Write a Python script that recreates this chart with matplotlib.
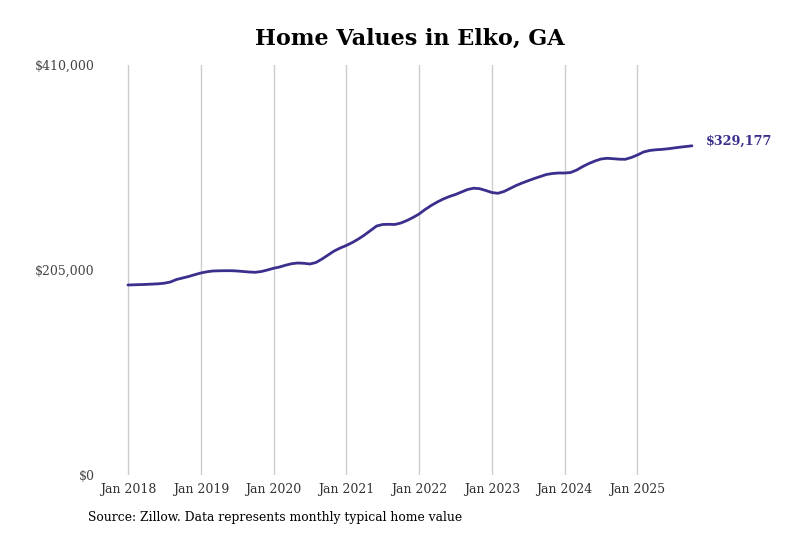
import numpy as np
import matplotlib
matplotlib.use("Agg")
import matplotlib.pyplot as plt

# monthly typical home value (thousands of $), Jan 2018 .. Oct 2025
values_k = [
    190.0, 190.2, 190.4, 190.6, 190.9, 191.2, 191.8, 193.0, 195.5, 197.0, 198.5, 200.3,
    202.0, 203.2, 204.0, 204.2, 204.3, 204.3, 204.0, 203.5, 203.0, 202.7, 203.5, 205.0,
    206.7, 208.0, 209.8, 211.3, 212.0, 211.7, 211.0, 212.5, 216.0, 220.0, 224.0, 227.0,
    229.5, 232.5, 236.0, 240.0, 244.5, 249.0, 250.5, 250.7, 250.5, 252.0, 254.5, 257.5,
    261.0, 265.5, 269.5, 273.0, 276.0, 278.5, 280.5, 283.0, 285.5, 286.8, 286.3, 284.5,
    282.5, 281.7, 283.5, 286.5, 289.5, 292.0, 294.3, 296.5, 298.5, 300.5, 301.5, 302.0,
    302.0, 302.5, 305.0, 308.5, 311.5, 314.0, 316.0, 316.7, 316.3, 315.8, 315.7, 317.5,
    320.0, 323.0, 324.5, 325.2, 325.6, 326.2, 327.0, 327.8, 328.5, 329.177,
]
tick_labels = ["Jan 2018", "Jan 2019", "Jan 2020", "Jan 2021",
               "Jan 2022", "Jan 2023", "Jan 2024", "Jan 2025"]
y_ticks = [0, 205000, 410000]
y_tick_labels = ["$0", "$205,000", "$410,000"]

values = np.array(values_k) * 1000
months = np.arange(len(values))
line_color = "#3a2f8c"
serif = ["DejaVu Serif"]

fig = plt.figure(figsize=(8, 5.33), dpi=100)
ax = fig.add_axes([100 / 800, 58 / 533, 592 / 800, 410 / 533])

ax.plot(months, values, color=line_color, lw=2.0, solid_capstyle="round", clip_on=False)

ax.set_xlim(-28 / 6.075, months[-1])
ax.set_ylim(0, 410000)
ax.set_xticks(np.arange(0, 96, 12)[:len(tick_labels)])
ax.set_xticklabels(tick_labels, family=serif, fontsize=9, color="#333333")
ax.set_yticks(y_ticks)
ax.set_yticklabels(y_tick_labels, family=serif, fontsize=9, color="#444444")
ax.tick_params(axis="both", length=0)
ax.tick_params(axis="x", pad=6)
ax.tick_params(axis="y", pad=4)
ax.grid(axis="x", color="#cccccc", lw=1)
for s in ax.spines.values():
    s.set_visible(False)

ax.annotate(f"${values[-1]:,.0f}", (months[-1], values[-1]), xytext=(10, 3),
            textcoords="offset points", ha="left", va="center",
            family=serif, fontsize=9.2, fontweight="bold", color=line_color,
            annotation_clip=False)

fig.text(410 / 800, 1 - 39 / 533, "Home Values in Elko, GA", ha="center", va="center",
         family=serif, fontsize=16, fontweight="bold", color="black")
fig.text(88 / 800, 1 - 517 / 533, "Source: Zillow. Data represents monthly typical home value",
         ha="left", va="center", family=serif, fontsize=8.9, color="black")

fig.savefig("out.png", dpi=100)
